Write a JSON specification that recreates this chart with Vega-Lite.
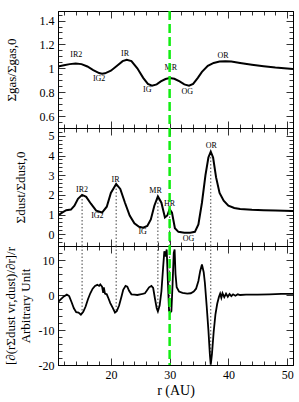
{
  "$schema": "https://vega.github.io/schema/vega-lite/v6.json",
  "padding": {"left": 3, "top": 8, "right": 0, "bottom": 0},
  "spacing": 0,
  "bounds": "flush",
  "config": {
    "view": {"stroke": "black", "strokeWidth": 1},
    "axis": {"labelFont": "Liberation Serif", "labelFontSize": 12, "titleFont": "Liberation Serif", "titleFontSize": 13, "titleFontWeight": "normal", "domainColor": "black", "tickColor": "black", "labelColor": "black", "titleColor": "black", "grid": false, "labelOverlap": false, "labelFlush": false, "tickWidth": 0.8, "domainWidth": 1}
  },
  "datasets": {
    "gas": [
      {"r": 11, "v": 1.015}, {"r": 12, "v": 1.025}, {"r": 13, "v": 1.035}, {"r": 14, "v": 1.04}, {"r": 15, "v": 1.035},
      {"r": 16, "v": 1.015}, {"r": 17, "v": 0.985}, {"r": 18, "v": 0.96}, {"r": 18.5, "v": 0.955}, {"r": 19, "v": 0.958},
      {"r": 20, "v": 0.98}, {"r": 21, "v": 1.02}, {"r": 22, "v": 1.06}, {"r": 22.7, "v": 1.072}, {"r": 23.5, "v": 1.06},
      {"r": 24.5, "v": 1.0}, {"r": 25.5, "v": 0.92}, {"r": 26.3, "v": 0.87}, {"r": 27, "v": 0.855}, {"r": 27.8, "v": 0.865},
      {"r": 28.5, "v": 0.89}, {"r": 29.3, "v": 0.91}, {"r": 30, "v": 0.918}, {"r": 30.8, "v": 0.912}, {"r": 31.7, "v": 0.89},
      {"r": 32.5, "v": 0.865}, {"r": 33.3, "v": 0.855}, {"r": 34, "v": 0.87}, {"r": 34.8, "v": 0.92}, {"r": 35.5, "v": 0.97},
      {"r": 36.5, "v": 1.02}, {"r": 37.5, "v": 1.045}, {"r": 38.5, "v": 1.057}, {"r": 39.5, "v": 1.06}, {"r": 40.5, "v": 1.057},
      {"r": 42, "v": 1.045}, {"r": 44, "v": 1.03}, {"r": 46, "v": 1.017}, {"r": 48, "v": 1.006}, {"r": 50, "v": 0.998}, {"r": 51, "v": 0.994}
    ],
    "dust": [
      {"r": 11, "v": 0.95}, {"r": 11.7, "v": 1.1}, {"r": 12.4, "v": 1.22}, {"r": 13.2, "v": 1.25}, {"r": 13.8, "v": 1.45},
      {"r": 14.4, "v": 1.8}, {"r": 15.1, "v": 2.0}, {"r": 15.8, "v": 1.9}, {"r": 16.6, "v": 1.55}, {"r": 17.5, "v": 1.2},
      {"r": 18.5, "v": 1.1}, {"r": 19.3, "v": 1.4}, {"r": 20, "v": 2.1}, {"r": 20.9, "v": 2.55}, {"r": 21.6, "v": 2.3},
      {"r": 22.4, "v": 1.6}, {"r": 23.2, "v": 0.95}, {"r": 24, "v": 0.55}, {"r": 24.8, "v": 0.38}, {"r": 25.5, "v": 0.33},
      {"r": 26.2, "v": 0.42}, {"r": 26.8, "v": 0.75}, {"r": 27.4, "v": 1.45}, {"r": 28.0, "v": 1.92}, {"r": 28.6, "v": 1.6},
      {"r": 29.2, "v": 0.85}, {"r": 29.6, "v": 0.95}, {"r": 30.0, "v": 1.27}, {"r": 30.4, "v": 1.1}, {"r": 30.9, "v": 0.3},
      {"r": 31.5, "v": 0.12}, {"r": 32.5, "v": 0.08}, {"r": 33.5, "v": 0.08}, {"r": 34.3, "v": 0.12}, {"r": 34.9, "v": 0.5},
      {"r": 35.5, "v": 1.6}, {"r": 36.1, "v": 3.0}, {"r": 36.6, "v": 3.9}, {"r": 37.0, "v": 4.2}, {"r": 37.4, "v": 3.9},
      {"r": 37.9, "v": 2.9}, {"r": 38.5, "v": 2.1}, {"r": 39.2, "v": 1.7}, {"r": 40, "v": 1.45}, {"r": 41, "v": 1.33},
      {"r": 42, "v": 1.28}, {"r": 44, "v": 1.24}, {"r": 46, "v": 1.22}, {"r": 48, "v": 1.2}, {"r": 51, "v": 1.18}
    ],
    "flux": [
      {"r": 11, "v": -2.0}, {"r": 11.5, "v": -1.2}, {"r": 12, "v": -0.4}, {"r": 12.5, "v": 0.1}, {"r": 12.9, "v": -0.3},
      {"r": 13.3, "v": -2.0}, {"r": 13.7, "v": -3.8}, {"r": 14.1, "v": -4.9}, {"r": 14.5, "v": -5.0}, {"r": 14.9, "v": -5.6},
      {"r": 15.3, "v": -4.8}, {"r": 15.7, "v": -3.3}, {"r": 16.1, "v": -1.2}, {"r": 16.5, "v": 0.5}, {"r": 16.9, "v": 1.8},
      {"r": 17.3, "v": 2.6}, {"r": 17.7, "v": 2.9}, {"r": 18.0, "v": 2.6}, {"r": 18.2, "v": 3.0}, {"r": 18.5, "v": 2.4},
      {"r": 18.7, "v": 0.6}, {"r": 18.8, "v": 2.2}, {"r": 19.0, "v": 0.4}, {"r": 19.3, "v": 0.2}, {"r": 19.6, "v": -1.0},
      {"r": 19.9, "v": -2.3}, {"r": 20.3, "v": -3.6}, {"r": 20.7, "v": -5.0}, {"r": 21.0, "v": -4.6}, {"r": 21.4, "v": -3.0},
      {"r": 21.8, "v": -0.5}, {"r": 22.1, "v": 1.5}, {"r": 22.5, "v": 2.6}, {"r": 22.8, "v": 2.4}, {"r": 23.1, "v": 1.2},
      {"r": 23.5, "v": 0.2}, {"r": 24.0, "v": 0.1}, {"r": 24.5, "v": 0.0}, {"r": 25.0, "v": 0.2}, {"r": 25.4, "v": 0.3},
      {"r": 25.8, "v": 0.5}, {"r": 26.1, "v": 1.2}, {"r": 26.5, "v": 2.2}, {"r": 26.9, "v": 2.6}, {"r": 27.2, "v": 2.0},
      {"r": 27.5, "v": -1.0}, {"r": 27.8, "v": -3.8}, {"r": 28.0, "v": -4.7}, {"r": 28.3, "v": -3.0}, {"r": 28.6, "v": 1.0},
      {"r": 28.9, "v": 8.0}, {"r": 29.1, "v": 12.5}, {"r": 29.3, "v": 11.0}, {"r": 29.5, "v": 13.0}, {"r": 29.7, "v": 4.0},
      {"r": 29.9, "v": -4.5}, {"r": 30.1, "v": -5.0}, {"r": 30.3, "v": -4.6}, {"r": 30.5, "v": 3.0}, {"r": 30.7, "v": 12.0},
      {"r": 30.85, "v": 13.0}, {"r": 31.0, "v": 6.0}, {"r": 31.2, "v": 2.2}, {"r": 31.6, "v": 1.0}, {"r": 32.2, "v": 0.6},
      {"r": 33.0, "v": 0.4}, {"r": 33.6, "v": 0.5}, {"r": 34.1, "v": 1.0}, {"r": 34.5, "v": 1.8}, {"r": 34.9, "v": 4.0},
      {"r": 35.2, "v": 6.8}, {"r": 35.5, "v": 8.7}, {"r": 35.8, "v": 6.5}, {"r": 36.0, "v": 3.5}, {"r": 36.3, "v": -3.0},
      {"r": 36.6, "v": -10.0}, {"r": 36.85, "v": -17.0}, {"r": 37.0, "v": -19.9}, {"r": 37.2, "v": -17.0}, {"r": 37.5, "v": -10.5},
      {"r": 37.8, "v": -5.5}, {"r": 38.1, "v": -2.5}, {"r": 38.4, "v": -0.5}, {"r": 38.6, "v": 0.4}, {"r": 38.8, "v": -0.8},
      {"r": 39.0, "v": 0.5}, {"r": 39.3, "v": -0.6}, {"r": 39.6, "v": 0.4}, {"r": 39.9, "v": -0.5}, {"r": 40.2, "v": 0.3},
      {"r": 40.5, "v": -0.3}, {"r": 40.8, "v": 0.2}, {"r": 41.2, "v": -0.2}, {"r": 41.6, "v": 0.2}, {"r": 42.0, "v": 0.0},
      {"r": 43.0, "v": 0.1}, {"r": 45, "v": 0.1}, {"r": 47, "v": 0.2}, {"r": 49, "v": 0.3}, {"r": 51, "v": 0.35}
    ],
    "lab1": [
      {"r": 14.1, "v": 1.108, "t": "IR2"}, {"r": 18.0, "v": 0.908, "t": "IG2"}, {"r": 22.4, "v": 1.12, "t": "IR"},
      {"r": 26.2, "v": 0.817, "t": "IG"}, {"r": 30.2, "v": 1.0, "t": "MR"}, {"r": 33.0, "v": 0.8, "t": "OG"}, {"r": 39.1, "v": 1.106, "t": "OR"}
    ],
    "lab2": [
      {"r": 15.1, "v": 2.25, "t": "IR2"}, {"r": 17.7, "v": 0.95, "t": "IG2"}, {"r": 20.8, "v": 2.76, "t": "IR"},
      {"r": 25.4, "v": 0.09, "t": "IG"}, {"r": 27.6, "v": 2.22, "t": "MR"}, {"r": 30.0, "v": 1.54, "t": "HR"},
      {"r": 33.2, "v": -0.25, "t": "OG"}, {"r": 37.1, "v": 4.46, "t": "OR"}
    ],
    "dots2": [
      {"r": 15.1, "v0": -0.6, "v1": 2.0}, {"r": 20.9, "v0": -0.6, "v1": 2.55}, {"r": 28.0, "v0": -0.6, "v1": 1.92},
      {"r": 30.0, "v0": -0.6, "v1": 1.27}, {"r": 37.0, "v0": -0.6, "v1": 4.2}
    ],
    "dots3": [
      {"r": 15.1, "v0": 14, "v1": -5.4}, {"r": 20.9, "v0": 14, "v1": -4.8}, {"r": 28.0, "v0": 14, "v1": -4.7},
      {"r": 30.0, "v0": 14, "v1": -5.0}, {"r": 37.0, "v0": 14, "v1": -19.9}
    ],
    "green": [{"r": 30}]
  },
  "vconcat": [
    {
      "width": 235, "height": 117,
      "layer": [
        {
          "data": {"name": "gas"},
          "mark": {"type": "line", "color": "black", "strokeWidth": 2, "clip": true},
          "encoding": {
            "x": {"field": "r", "type": "quantitative", "scale": {"domain": [11, 51], "nice": false, "zero": false},
              "axis": {"orient": "bottom", "title": null, "labels": false, "values": [12,14,16,18,20,22,24,26,28,30,32,34,36,38,40,42,44,46,48,50],
                "tickSize": {"condition": {"test": "datum.value % 10 === 0", "value": -7}, "value": -4}}},
            "y": {"field": "v", "type": "quantitative", "scale": {"domain": [0.5, 1.48], "nice": false, "zero": false},
              "axis": {"orient": "left", "title": "Σgas/Σgas,0", "titlePadding": 21,
                "values": [0.55,0.6,0.65,0.7,0.75,0.8,0.85,0.9,0.95,1,1.05,1.1,1.15,1.2,1.25,1.3,1.35,1.4,1.45],
                "labelExpr": "abs(datum.value*5-round(datum.value*5))<0.001 ? (abs(datum.value-1)<0.001 ? '1' : format(datum.value,'.1f')) : ''",
                "labelPadding": 11,
                "tickSize": {"condition": {"test": "abs(datum.value*5-round(datum.value*5))<0.001", "value": -7}, "value": -4}}}
          }
        },
        {
          "data": {"name": "lab1"},
          "mark": {"type": "text", "font": "Liberation Serif", "fontSize": 8, "color": "black"},
          "encoding": {
            "x": {"field": "r", "type": "quantitative", "scale": {"domain": [11, 51], "nice": false, "zero": false},
              "axis": {"orient": "top", "title": null, "labels": false, "values": [12,14,16,18,20,22,24,26,28,30,32,34,36,38,40,42,44,46,48,50],
                "tickSize": {"condition": {"test": "datum.value % 10 === 0", "value": -7}, "value": -4}}},
            "y": {"field": "v", "type": "quantitative", "scale": {"domain": [0.5, 1.48], "nice": false, "zero": false},
              "axis": {"orient": "right", "title": null, "labels": false,
                "values": [0.55,0.6,0.65,0.7,0.75,0.8,0.85,0.9,0.95,1,1.05,1.1,1.15,1.2,1.25,1.3,1.35,1.4,1.45],
                "tickSize": {"condition": {"test": "abs(datum.value*5-round(datum.value*5))<0.001", "value": -7}, "value": -4}}},
            "text": {"field": "t"}
          }
        },
        {
          "data": {"name": "green"},
          "mark": {"type": "rule", "color": "#11ee11", "strokeWidth": 2.5, "strokeDash": [9, 4]},
          "encoding": {"x": {"field": "r", "type": "quantitative", "axis": null}}
        }
      ],
      "resolve": {"axis": {"x": "independent", "y": "independent"}}
    },
    {
      "width": 235, "height": 118,
      "layer": [
        {
          "data": {"name": "dots2"},
          "mark": {"type": "rule", "color": "#444444", "strokeWidth": 1, "strokeDash": [1.5, 2]},
          "encoding": {
            "x": {"field": "r", "type": "quantitative", "axis": null, "scale": {"domain": [11, 51], "nice": false, "zero": false}},
            "y": {"field": "v0", "type": "quantitative", "axis": null, "scale": {"domain": [-0.6, 5.4], "nice": false, "zero": false}},
            "y2": {"field": "v1"}
          }
        },
        {
          "data": {"name": "dust"},
          "mark": {"type": "line", "color": "black", "strokeWidth": 2, "clip": true},
          "encoding": {
            "x": {"field": "r", "type": "quantitative", "scale": {"domain": [11, 51], "nice": false, "zero": false},
              "axis": {"orient": "bottom", "title": null, "labels": false, "values": [12,14,16,18,20,22,24,26,28,30,32,34,36,38,40,42,44,46,48,50],
                "tickSize": {"condition": {"test": "datum.value % 10 === 0", "value": -7}, "value": -4}}},
            "y": {"field": "v", "type": "quantitative", "scale": {"domain": [-0.6, 5.4], "nice": false, "zero": false},
              "axis": {"orient": "left", "title": "Σdust/Σdust,0", "titlePadding": 21,
                "values": [-0.4,-0.2,0,0.2,0.4,0.6,0.8,1,1.2,1.4,1.6,1.8,2,2.2,2.4,2.6,2.8,3,3.2,3.4,3.6,3.8,4,4.2,4.4,4.6,4.8,5,5.2],
                "labelExpr": "abs(datum.value-round(datum.value))<0.001 ? format(round(datum.value),'d') : ''",
                "labelPadding": 11,
                "tickSize": {"condition": {"test": "abs(datum.value-round(datum.value))<0.001", "value": -7}, "value": -4}}}
          }
        },
        {
          "data": {"name": "lab2"},
          "mark": {"type": "text", "font": "Liberation Serif", "fontSize": 8, "color": "black"},
          "encoding": {
            "x": {"field": "r", "type": "quantitative", "scale": {"domain": [11, 51], "nice": false, "zero": false},
              "axis": {"orient": "top", "title": null, "labels": false, "values": [12,14,16,18,20,22,24,26,28,30,32,34,36,38,40,42,44,46,48,50],
                "tickSize": {"condition": {"test": "datum.value % 10 === 0", "value": -7}, "value": -4}}},
            "y": {"field": "v", "type": "quantitative", "scale": {"domain": [-0.6, 5.4], "nice": false, "zero": false},
              "axis": {"orient": "right", "title": null, "labels": false,
                "values": [-0.4,-0.2,0,0.2,0.4,0.6,0.8,1,1.2,1.4,1.6,1.8,2,2.2,2.4,2.6,2.8,3,3.2,3.4,3.6,3.8,4,4.2,4.4,4.6,4.8,5,5.2],
                "tickSize": {"condition": {"test": "abs(datum.value-round(datum.value))<0.001", "value": -7}, "value": -4}}},
            "text": {"field": "t"}
          }
        },
        {
          "data": {"name": "green"},
          "mark": {"type": "rule", "color": "#11ee11", "strokeWidth": 2.5, "strokeDash": [9, 4]},
          "encoding": {"x": {"field": "r", "type": "quantitative", "axis": null}}
        }
      ],
      "resolve": {"axis": {"x": "independent", "y": "independent"}}
    },
    {
      "width": 235, "height": 119,
      "layer": [
        {
          "data": {"name": "dots3"},
          "mark": {"type": "rule", "color": "#444444", "strokeWidth": 1, "strokeDash": [1.5, 2]},
          "encoding": {
            "x": {"field": "r", "type": "quantitative", "scale": {"domain": [11, 51], "nice": false, "zero": false},
              "axis": {"orient": "top", "title": null, "labels": false, "values": [12,14,16,18,20,22,24,26,28,30,32,34,36,38,40,42,44,46,48,50],
                "tickSize": {"condition": {"test": "datum.value % 10 === 0", "value": -7}, "value": -4}}},
            "y": {"field": "v0", "type": "quantitative", "scale": {"domain": [-20, 14], "nice": false, "zero": false},
              "axis": {"orient": "right", "title": null, "labels": false,
                "values": [-18,-16,-14,-12,-10,-8,-6,-4,-2,0,2,4,6,8,10,12],
                "tickSize": {"condition": {"test": "datum.value % 10 === 0", "value": -7}, "value": -4}}},
            "y2": {"field": "v1"}
          }
        },
        {
          "data": {"name": "flux"},
          "mark": {"type": "line", "color": "black", "strokeWidth": 1.8, "clip": true},
          "encoding": {
            "x": {"field": "r", "type": "quantitative", "scale": {"domain": [11, 51], "nice": false, "zero": false},
              "axis": {"orient": "bottom", "title": "r (AU)", "titleFontSize": 14, "titlePadding": 0,
                "values": [12,14,16,18,20,22,24,26,28,30,32,34,36,38,40,42,44,46,48,50],
                "labelExpr": "datum.value % 10 === 0 ? '' + datum.value : ''", "labelPadding": 11,
                "tickSize": {"condition": {"test": "datum.value % 10 === 0", "value": -7}, "value": -4}}},
            "y": {"field": "v", "type": "quantitative", "scale": {"domain": [-20, 14], "nice": false, "zero": false},
              "axis": {"orient": "left", "title": ["[∂(rΣdust vr,dust)/∂r]/r", "Arbitrary Unit"], "titlePadding": 6,
                "values": [-20,-18,-16,-14,-12,-10,-8,-6,-4,-2,0,2,4,6,8,10,12],
                "labelExpr": "datum.value % 10 === 0 ? '' + datum.value : ''", "labelPadding": 11,
                "tickSize": {"condition": {"test": "datum.value % 10 === 0", "value": -7}, "value": -4}}}
          }
        },
        {
          "data": {"name": "green"},
          "mark": {"type": "rule", "color": "#11ee11", "strokeWidth": 2.5, "strokeDash": [9, 4]},
          "encoding": {"x": {"field": "r", "type": "quantitative", "axis": null}}
        }
      ],
      "resolve": {"axis": {"x": "independent", "y": "independent"}}
    }
  ]
}
